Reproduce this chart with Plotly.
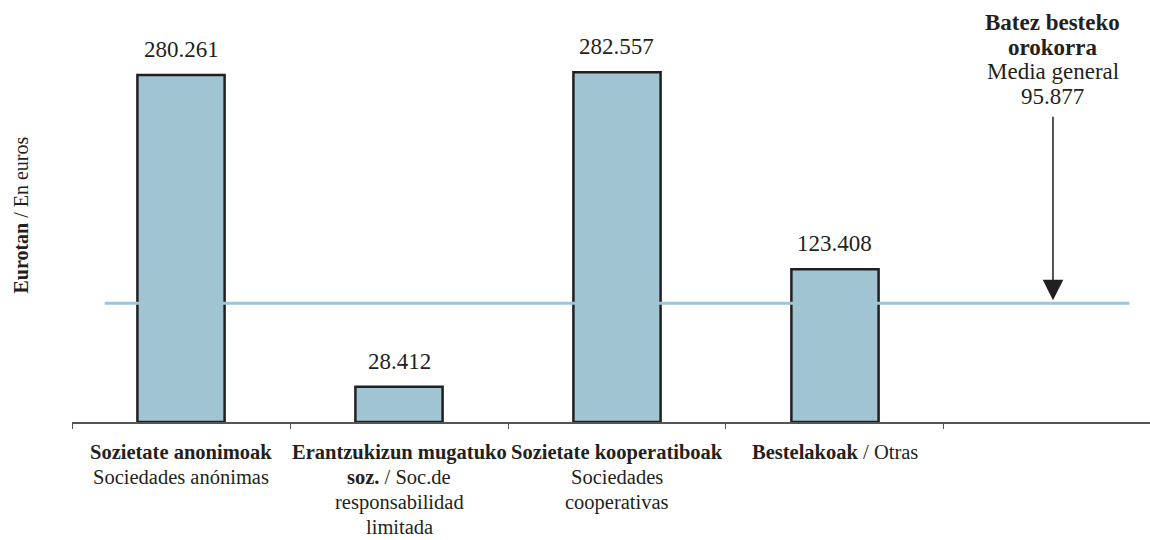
import plotly.graph_objects as go

# category labels, one list of lines per category (Basque in bold, Spanish in regular)
category_lines = [
    ["<b>Sozietate anonimoak</b>", "Sociedades anónimas"],
    ["<b>Erantzukizun mugatuko</b>", "<b>soz.</b> / Soc.de", "responsabilidad", "limitada"],
    ["<b>Sozietate kooperatiboak</b>", "Sociedades", "cooperativas"],
    ["<b>Bestelakoak</b> / Otras"],
]
values = [280261, 28412, 282557, 123408]
value_labels = ["280.261", "28.412", "282.557", "123.408"]
average = 95877
average_lines = ["<b>Batez besteko</b>", "<b>orokorra</b>", "Media general", "95.877"]
y_title = "<b>Eurotan</b> / En euros"

FONT = "Liberation Serif, Times New Roman, serif"
BAR_FILL = "#a1c4d3"
BAR_EDGE = "#231f20"
TEXT = "#231f20"

xs = list(range(len(values)))

fig = go.Figure()
fig.add_trace(go.Bar(
    x=xs, y=values, width=0.4,
    marker=dict(color=BAR_FILL, line=dict(color=BAR_EDGE, width=2.5)),
    hoverinfo="skip", showlegend=False,
))
fig.add_trace(go.Scatter(
    x=[-0.35, 4.35], y=[average, average], mode="lines",
    line=dict(color="#9fc4d4", width=3), hoverinfo="skip", showlegend=False,
))

annotations = []
for i, v in enumerate(values):
    annotations.append(dict(
        x=i, y=v, xref="x", yref="y", text=value_labels[i], showarrow=False,
        yanchor="bottom", yshift=11, font=dict(family=FONT, size=23, color=TEXT),
    ))
    for k, line in enumerate(category_lines[i]):
        annotations.append(dict(
            x=i, y=0, xref="x", yref="y", text=line, showarrow=False,
            yanchor="middle", yshift=-30 - 25 * k, align="center",
            font=dict(family=FONT, size=20.5, color=TEXT),
        ))

avg_x = 4
for k, line in enumerate(average_lines):
    annotations.append(dict(
        x=avg_x, y=average, xref="x", yref="y", text=line, showarrow=False,
        yanchor="middle", yshift=281 - 24.7 * k, align="center",
        font=dict(family=FONT, size=23, color=TEXT),
    ))
annotations.append(dict(
    x=avg_x, y=average, xref="x", yref="y", text="",
    showarrow=True, ax=0, ay=-188, axref="pixel", ayref="pixel",
    arrowhead=2, arrowsize=2.75, arrowwidth=1.5, arrowcolor=TEXT, standoff=3,
))
annotations.append(dict(
    x=-0.047, y=0.49, xref="paper", yref="paper", textangle=-90,
    xanchor="center", yanchor="middle",
    text=y_title, showarrow=False,
    font=dict(family=FONT, size=20, color=TEXT),
))

fig.update_layout(
    width=1150, height=540,
    margin=dict(l=72, r=0, t=0, b=118),
    paper_bgcolor="white", plot_bgcolor="white",
    annotations=annotations,
    font=dict(family=FONT, color=TEXT),
    xaxis=dict(
        range=[-0.5, 4.445], tickvals=[-0.5, 0.5, 1.5, 2.5, 3.5],
        ticktext=["", "", "", "", ""], ticks="outside", ticklen=5, tickcolor="#555",
        showline=True, linecolor="#555", linewidth=1.5, showgrid=False, zeroline=False,
    ),
    yaxis=dict(range=[0, 340870], visible=False, showgrid=False, zeroline=False),
)

fig.write_html(
    "out.html",
    config={"displayModeBar": False},
    post_script="document.body.style.margin='0';document.body.style.overflow='hidden';",
)
